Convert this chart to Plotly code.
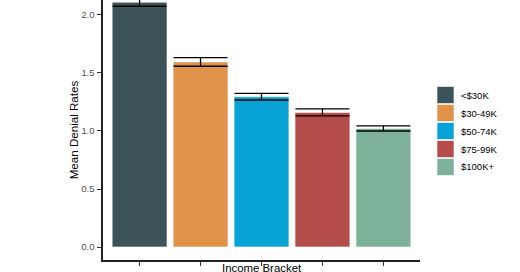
import plotly.graph_objects as go

categories = ["<$30K", "$30-49K", "$50-74K", "$75-99K", "$100K+"]
means = [2.11, 1.595, 1.296, 1.16, 1.022]
ses = [0.035, 0.037, 0.029, 0.03, 0.022]
colors = ["#374E55", "#DF8F44", "#00A1D5", "#B24745", "#79AF97"]
y_ticks = [0.0, 0.5, 1.0, 1.5, 2.0]

W, H = 520, 272
L, R, T, B = 103, 420, 0, 260
FONT = "Liberation Sans, Arial, sans-serif"

fig = go.Figure()
for c, m, s, col in zip(categories, means, ses, colors):
    fig.add_trace(go.Bar(
        x=[c], y=[m], name=c,
        marker=dict(color=col, opacity=0.97, line=dict(color="rgba(255,255,255,0.6)", width=1)),
        error_y=dict(type="data", array=[s], visible=True, color="black", thickness=1.3, width=27),
        width=0.9, showlegend=False,
    ))

def px2x(p):
    return (p - L) / (R - L)

def px2y(p):
    return (B - p) / (B - T)

shapes = []
annotations = []
for i, (c, col) in enumerate(zip(categories, colors)):
    cy = 95 + 18 * i
    shapes.append(dict(type="rect", xref="paper", yref="paper",
                       x0=px2x(437), x1=px2x(454), y0=px2y(cy + 8.5), y1=px2y(cy - 8.5),
                       fillcolor=col, opacity=0.97, line=dict(color="rgba(255,255,255,0.6)", width=1)))
    annotations.append(dict(xref="paper", yref="paper", x=px2x(459), y=px2y(cy),
                            text=c, showarrow=False, xanchor="left", yanchor="middle",
                            font=dict(size=9.5, color="black", family=FONT)))

annotations.append(dict(xref="paper", yref="paper", x=0.5, y=px2y(268),
                        text="Income Bracket", showarrow=False, xanchor="center", yanchor="middle",
                        font=dict(size=11.4, color="black", family=FONT)))

fig.update_layout(
    width=W, height=H,
    margin=dict(l=L, r=W - R, t=T, b=H - B, pad=0),
    paper_bgcolor="white", plot_bgcolor="white",
    bargap=0.1,
    shapes=shapes, annotations=annotations,
    font=dict(family=FONT),
)
fig.update_xaxes(
    range=[-0.6, 4.6], showline=True, linecolor="#222", linewidth=1.6,
    ticks="outside", ticklen=4, tickcolor="#333", tickwidth=1,
    showticklabels=False, showgrid=False, zeroline=False,
)
fig.update_yaxes(
    range=[-0.112, 2.129], tickvals=y_ticks, ticktext=[f"{v:.1f}" for v in y_ticks],
    showline=True, linecolor="#222", linewidth=1.6,
    ticks="outside", ticklen=4, tickcolor="#333", tickwidth=1,
    tickfont=dict(size=9.3, color="#4D4D4D"), ticklabelstandoff=1,
    title=dict(text="Mean Denial Rates", font=dict(size=11.6, color="black"), standoff=0),
    showgrid=False, zeroline=False,
)

fig.write_html("out.html")
